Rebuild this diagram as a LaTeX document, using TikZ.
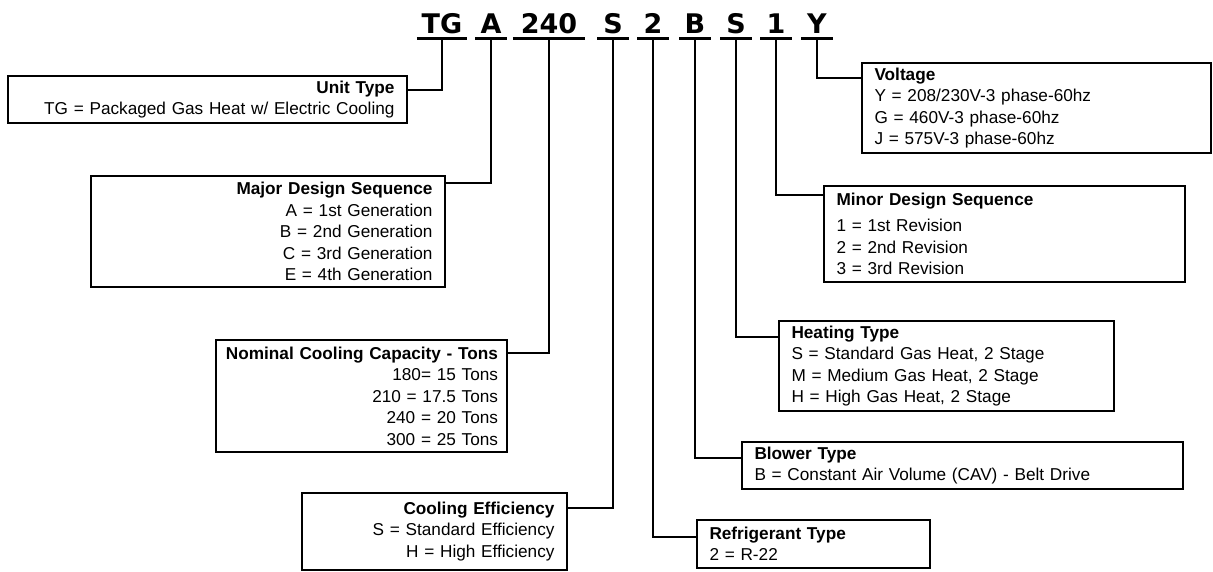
\documentclass[tikz,border=0pt]{standalone}
\usepackage{fontspec}
\setmainfont{Liberation Sans}
\newfontfamily\codefont{DejaVu Sans}
\usetikzlibrary{positioning}

\begin{document}
\begin{tikzpicture}[x=1pt, y=-1pt,
    every node/.style={font=\fontsize{17.2}{21.5}\selectfont},
    infobox/.style={draw, line width=1.8pt, anchor=north west, inner xsep=12.5pt, inner ysep=0pt, outer sep=0pt},
    code/.style={font=\codefont\bfseries\fontsize{27}{30}\selectfont, inner xsep=0pt, inner ysep=5.5pt, text depth=0pt, anchor=base, minimum width=#1},
    code/.default=31pt,
    wire/.style={line width=2.8pt}]
    \useasboundingbox (0,0) rectangle (1213,571);

    % model number
    \foreach \nm/\x/\txt/\w in {
        tg/442/TG/50pt,
        gen/491/A/31pt,
        tons/549/240/72pt,
        eff/613/S/31pt,
        refr/653/2/31pt,
        blow/695/B/31pt,
        heat/736/S/31pt,
        rev/776/1/31pt,
        volt/817/Y/31pt}{
        \node[code=\w] (\nm) at (\x,33) {\txt};
        \draw[wire] (\nm.south west) -- (\nm.south east);
    }

    % left side
    \node[infobox, text width=374pt, minimum height=47pt, align=right] (unit) at (8,76)
        {\textbf{Unit Type}\\TG = Packaged Gas Heat w/ Electric Cooling};
    \node[infobox, text width=329pt, minimum height=111pt, align=right] (major) at (91,176)
        {\textbf{Major Design Sequence}\\A = 1st Generation\\B = 2nd Generation\\C = 3rd Generation\\E = 4th Generation};
    \node[infobox, inner xsep=9pt, text width=273pt, minimum height=112pt, align=right] (nominal) at (216,340)
        {\textbf{Nominal Cooling Capacity - Tons}\\180= 15 Tons\\210 = 17.5 Tons\\240 = 20 Tons\\300 = 25 Tons};
    \node[infobox, text width=240pt, minimum height=77pt, align=right] (cooling) at (302,493)
        {\textbf{Cooling Efficiency}\\S = Standard Efficiency\\H = High Efficiency};

    % right side
    \node[infobox, text width=324pt, minimum height=90pt, align=left] (voltage) at (862,63)
        {\textbf{Voltage}\\Y = 208/230V-3 phase-60hz\\G = 460V-3 phase-60hz\\J = 575V-3 phase-60hz};
    \node[infobox, text width=336pt, minimum height=96pt, align=left] (minor) at (824,186)
        {\textbf{Minor Design Sequence}\\[5pt]1 = 1st Revision\\2 = 2nd Revision\\3 = 3rd Revision};
    \node[infobox, text width=310pt, minimum height=90pt, align=left] (heating) at (779,321)
        {\textbf{Heating Type}\\S = Standard Gas Heat, 2 Stage\\M = Medium Gas Heat, 2 Stage\\H = High Gas Heat, 2 Stage};
    \node[infobox, text width=416pt, minimum height=47pt, align=left] (blower) at (742,442)
        {\textbf{Blower Type}\\B = Constant Air Volume (CAV) - Belt Drive};
    \node[infobox, text width=208pt, minimum height=48pt, align=left] (refrigerant) at (697,520)
        {\textbf{Refrigerant Type}\\2 = R-22};

    % leaders
    \foreach \s/\c/\b in {
        14pt/tg/unit.north east,
        7pt/gen/major.north east,
        13pt/tons/nominal.north east,
        15pt/eff/cooling.north east,
        17pt/refr/refrigerant.north west,
        16pt/blow/blower.north west,
        16pt/heat/heating.north west,
        9pt/rev/minor.north west,
        15pt/volt/voltage.north west}{
        \draw[wire] (\c.south) |- ([yshift=-\s]\b);
    }
\end{tikzpicture}
\end{document}
